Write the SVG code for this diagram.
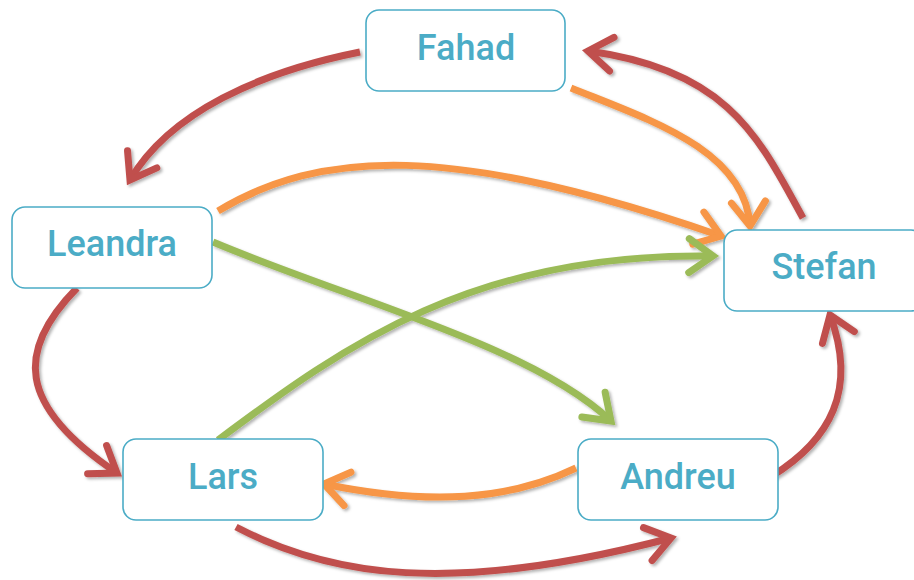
<svg xmlns="http://www.w3.org/2000/svg" width="914" height="580" viewBox="0 0 914 580">
  <style>
    .box { fill: #ffffff; stroke: #4BACC6; stroke-width: 1.6; }
    .label { font-family: Roboto, "Liberation Sans", sans-serif; font-weight: 500; font-size: 36px; fill: #4BACC6; text-anchor: middle; }
    .edge { fill: none; stroke-width: 7; }
    .red { stroke: #C0504D; }
    .orange { stroke: #F79646; }
    .green { stroke: #9BBB59; }
  </style>
  <defs>
    <filter id="shadow" x="-10%" y="-10%" width="120%" height="120%">
      <feDropShadow dx="2" dy="2" stdDeviation="1.8" flood-color="#000" flood-opacity="0.3"/>
    </filter>
    <marker id="arrow-red" markerUnits="userSpaceOnUse" viewBox="-30 -22 34 44" refX="0" refY="0" markerWidth="34" markerHeight="44" orient="auto" overflow="visible">
      <path d="M-24,-17 L0,0 L-24,17" fill="none" stroke="#C0504D" stroke-width="7" stroke-linecap="round" stroke-linejoin="miter"/>
    </marker>
    <marker id="arrow-orange" markerUnits="userSpaceOnUse" viewBox="-30 -22 34 44" refX="0" refY="0" markerWidth="34" markerHeight="44" orient="auto" overflow="visible">
      <path d="M-24,-17 L0,0 L-24,17" fill="none" stroke="#F79646" stroke-width="7" stroke-linecap="round" stroke-linejoin="miter"/>
    </marker>
    <marker id="arrow-green" markerUnits="userSpaceOnUse" viewBox="-30 -22 34 44" refX="0" refY="0" markerWidth="34" markerHeight="44" orient="auto" overflow="visible">
      <path d="M-24,-17 L0,0 L-24,17" fill="none" stroke="#9BBB59" stroke-width="7" stroke-linecap="round" stroke-linejoin="miter"/>
    </marker>
  </defs>

  <!-- connectors -->
  <g id="connectors" filter="url(#shadow)">
    <path id="fahad-leandra" class="edge red" d="M360,52 C260,72 170,112 130,180" marker-end="url(#arrow-red)"/>
    <path id="stefan-fahad" class="edge red" d="M803,218 C760,140 730,70 588,51" marker-end="url(#arrow-red)"/>
    <path id="fahad-stefan" class="edge orange" d="M571,88 C650,120 745,150 750,226" marker-end="url(#arrow-orange)"/>
    <path id="leandra-stefan" class="edge orange" d="M218,211 C320,150 450,142 721,236" marker-end="url(#arrow-orange)"/>
    <path id="leandra-andreu" class="edge green" d="M213,242 C350,300 530,345 611,421" marker-end="url(#arrow-green)"/>
    <path id="lars-stefan" class="edge green" d="M218,440 C345,345 475,252 713,256" marker-end="url(#arrow-green)"/>
    <path id="leandra-lars" class="edge red" d="M77,288 C16,350 16,405 117,473" marker-end="url(#arrow-red)"/>
    <path id="andreu-lars" class="edge orange" d="M576,468 C510,500 430,506 324,484" marker-end="url(#arrow-orange)"/>
    <path id="lars-andreu" class="edge red" d="M236,527 C330,576 450,596 671,538" marker-end="url(#arrow-red)"/>
    <path id="andreu-stefan" class="edge red" d="M772,476 C830,440 858,390 830,315" marker-end="url(#arrow-red)"/>
  </g>

  <!-- nodes -->
  <g id="fahad">
    <rect class="box" x="366" y="10" width="199" height="81" rx="13"/>
    <text class="label" x="466" y="60">Fahad</text>
  </g>
  <g id="leandra">
    <rect class="box" x="12" y="207" width="200" height="81" rx="13"/>
    <text class="label" x="112" y="256">Leandra</text>
  </g>
  <g id="stefan">
    <rect class="box" x="724" y="230" width="200" height="81" rx="13"/>
    <text class="label" x="824" y="279">Stefan</text>
  </g>
  <g id="lars">
    <rect class="box" x="123" y="439" width="200" height="81" rx="13"/>
    <text class="label" x="223" y="489">Lars</text>
  </g>
  <g id="andreu">
    <rect class="box" x="578" y="439" width="200" height="81" rx="13"/>
    <text class="label" x="678" y="489">Andreu</text>
  </g>
</svg>
